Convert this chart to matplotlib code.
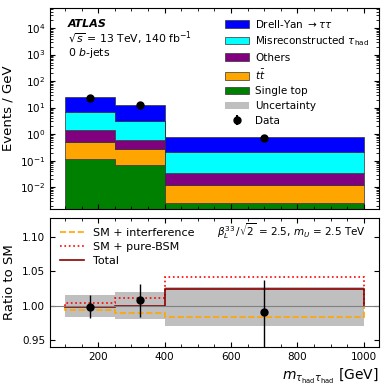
import numpy as np
import matplotlib
matplotlib.use("Agg")
import matplotlib.pyplot as plt
from matplotlib.patches import Patch
from matplotlib.ticker import MultipleLocator, LogLocator, NullFormatter

# binning (GeV)
edges = [100, 250, 400, 1000]
centers = [175, 325, 700]

# stacked backgrounds, events / GeV (bottom to top)
single_top = [0.115, 0.068, 0.0025]
ttbar = [0.385, 0.202, 0.0095]
others = [0.9, 0.32, 0.022]
misreco = [5.3, 2.5, 0.176]
drell_yan = [18.3, 8.9, 0.57]
data = [24.0, 12.0, 0.74]
data_err = [0.4, 0.3, 0.035]

# ratio panel
unc_up = [1.0155, 1.0195, 1.0276]
unc_dn = [0.984, 0.980, 0.971]
sm_interf = [0.9937, 0.989, 0.9836]
sm_bsm = [1.0035, 1.0116, 1.0417]
total = [0.9977, 1.000, 1.0247]
ratio_data = [0.9986, 1.0078, 0.9913]
ratio_err_up = [0.0164, 0.0232, 0.046]
ratio_err_dn = [0.0166, 0.0242, 0.052]

labels = ["Single top", r"$t\bar{t}$", "Others",
          r"Misreconstructed $\tau_{\mathrm{had}}$", r"Drell-Yan $\rightarrow\tau\tau$"]
colors = ["green", "orange", "purple", "cyan", "blue"]
stack = [single_top, ttbar, others, misreco, drell_yan]

plt.rcParams["font.family"] = "DejaVu Sans"
plt.rcParams["xtick.direction"] = "in"
plt.rcParams["ytick.direction"] = "in"

fig = plt.figure(figsize=(3.89, 3.89), dpi=100)
ax = fig.add_axes([0.1285, 0.4627, 0.8455, 0.5163])
rax = fig.add_axes([0.1285, 0.108, 0.8455, 0.3316])

base = np.full(3, 1e-6)
for vals, col, lab in zip(stack, colors, labels):
    top = base + np.array(vals)
    ax.stairs(top, edges, baseline=base, fill=True, color=col,
              edgecolor="#333333", linewidth=0.5, label=lab)
    base = top

ax.errorbar(centers, data, yerr=data_err, fmt="o", color="black",
            markersize=5, elinewidth=1, label="Data")
ax.set_yscale("log")
ax.set_ylim(1.5e-3, 5.6e4)
ax.set_xlim(55, 1045)
ax.set_ylabel("Events / GeV", fontsize=9.5)
ax.tick_params(which="both", top=True, right=True, labelsize=7.5)
ax.tick_params(labelbottom=False)
ax.xaxis.set_major_locator(MultipleLocator(200))
ax.xaxis.set_minor_locator(MultipleLocator(50))
ax.yaxis.set_major_locator(LogLocator(base=10, numticks=20))
ax.yaxis.set_minor_locator(LogLocator(base=10, subs=np.arange(2, 10), numticks=20))
ax.yaxis.set_minor_formatter(NullFormatter())
ax.set_yticks([1e-2, 1e-1, 1, 10, 1e2, 1e3, 1e4])

ax.text(0.055, 0.92, "ATLAS", transform=ax.transAxes, fontsize=8,
        fontweight="bold", fontstyle="italic", va="center")
ax.text(0.055, 0.852, r"$\sqrt{s}$ = 13 TeV, 140 fb$^{-1}$", transform=ax.transAxes,
        fontsize=7.8, va="center")
ax.text(0.055, 0.775, r"0 $b$-jets", transform=ax.transAxes, fontsize=7.8, va="center")

handles = [Patch(facecolor=c, edgecolor="#333333", linewidth=0.5) for c in colors[::-1]]
handles.append(Patch(facecolor="#bfbfbf", edgecolor="none"))
dh = ax.errorbar([], [], yerr=[], fmt="o", color="black", markersize=5)
handles.append(dh)
ax.legend(handles, labels[::-1] + ["Uncertainty", "Data"], loc="upper right",
          fontsize=7.5, frameon=False, handlelength=2.3, handletextpad=0.6,
          labelspacing=0.45, bbox_to_anchor=(1.0, 1.0))

# ratio panel
rax.axhline(1.0, color="gray", linewidth=0.8)
rax.stairs(unc_up, edges, baseline=unc_dn, fill=True, color="#bfbfbf", linewidth=0)
rax.stairs(sm_interf, edges, baseline=1.0, color="orange", linestyle="--",
           linewidth=1.2, label="SM + interference")
rax.stairs(sm_bsm, edges, baseline=1.0, color="red", linestyle=":",
           linewidth=1.2, label="SM + pure-BSM")
rax.stairs(total, edges, baseline=1.0, color="darkred", linewidth=1.2,
           label="Total")
rax.errorbar(centers, ratio_data, yerr=[ratio_err_dn, ratio_err_up], fmt="o",
             color="black", markersize=5, elinewidth=1)
rax.set_xlim(55, 1045)
rax.set_ylim(0.94, 1.127)
rax.set_ylabel("Ratio to SM", fontsize=9.5)
rax.set_xlabel(r"$m_{\tau_{\mathrm{had}}\tau_{\mathrm{had}}}$ [GeV]", fontsize=10,
               loc="right")
rax.xaxis.set_major_locator(MultipleLocator(200))
rax.xaxis.set_minor_locator(MultipleLocator(50))
rax.set_yticks([0.95, 1.00, 1.05, 1.10])
rax.tick_params(which="both", top=True, right=True, labelsize=7.5)
rax.legend(loc="upper left", fontsize=8, frameon=False, handlelength=2.2,
           labelspacing=0.35, bbox_to_anchor=(0.0, 1.0))
rax.text(0.96, 0.9, r"$\beta_L^{33}\,/\sqrt{2}$ = 2.5, $m_U$ = 2.5 TeV",
         transform=rax.transAxes, fontsize=7.5, ha="right", va="center")

fig.savefig("out.png", dpi=100)
